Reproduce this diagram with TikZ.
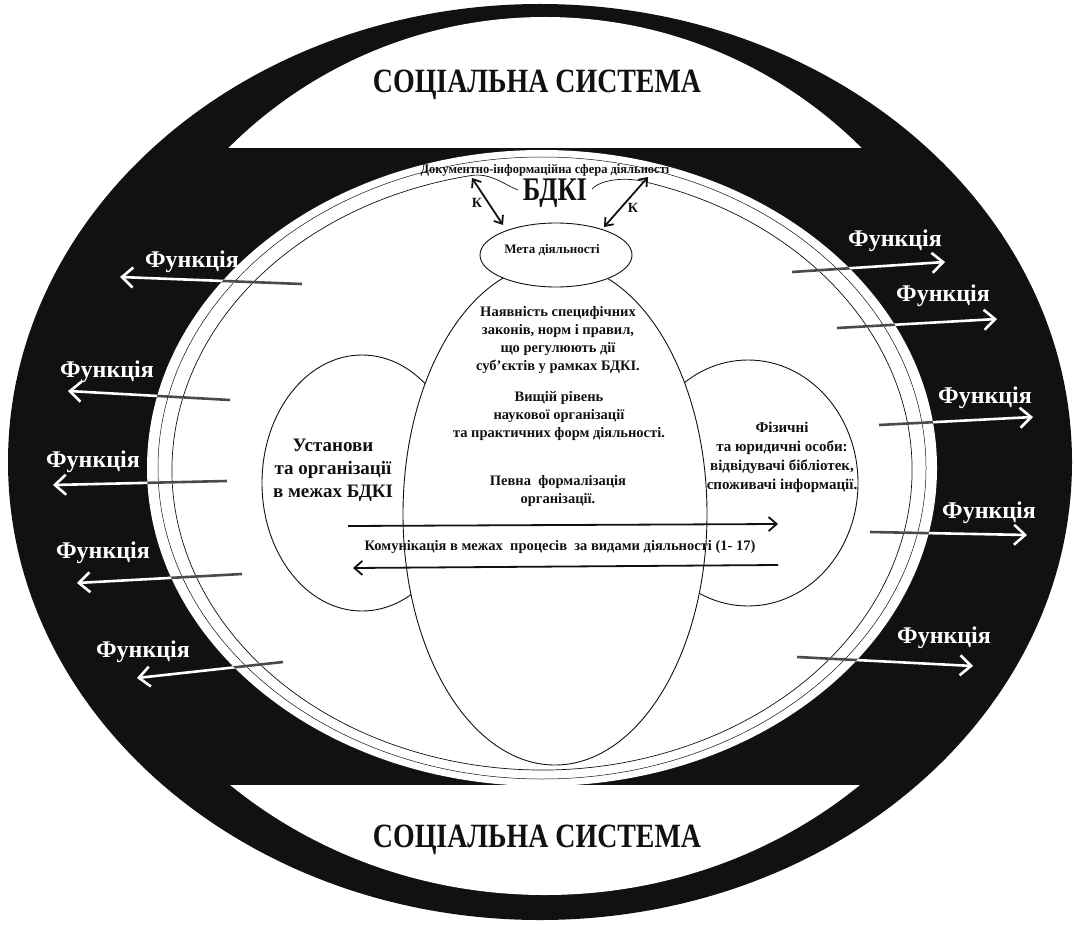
\documentclass[tikz,border=0pt]{standalone}
\usepackage{fontspec}
\usepackage{graphicx}
\setmainfont{Liberation Serif}
\usetikzlibrary{arrows.meta}
\definecolor{ink}{HTML}{111111}
\definecolor{greyline}{HTML}{4A4A4A}
\tikzset{
  fnarrow/.style={white, line width=2.6pt, -{Straight Barb[length=11pt,width=20pt]}},
  fnin/.style={greyline, line width=2.6pt},
  fnlabel/.style={text=white, font=\bfseries\fontsize{24}{24}\selectfont, inner sep=0pt},
  bubble/.style={draw=ink, line width=0.9pt, fill=white},
  thinline/.style={draw=ink, line width=0.7pt},
  blacktext/.style={text=ink, inner sep=0pt, align=center},
  commarrow/.style={draw=ink, line width=1.8pt, -{Straight Barb[length=8pt,width=14pt]}},
  karrow/.style={draw=ink, line width=1.8pt, {Straight Barb[length=7pt,width=11pt]}-{Straight Barb[length=7pt,width=11pt]}}
}
\begin{document}
\begin{tikzpicture}[x=1pt,y=-1pt]
\useasboundingbox (0,0) rectangle (1075,925);
% outer black ring
\fill[ink] (540,462) ellipse [x radius=532, y radius=458];
\begin{scope}
  \clip (0,0) rectangle (1075,148);
  \fill[white] (545,465) ellipse [x radius=448, y radius=448];
\end{scope}
\begin{scope}
  \clip (0,785) rectangle (1075,925);
  \fill[white] (545,455) ellipse [x radius=476, y radius=440];
\end{scope}
% central white field
\fill[white] (542,468) ellipse [x radius=395, y radius=318];
\draw[thinline, line width=0.5pt] (542,468) ellipse [x radius=384, y radius=311];
% inner thin ellipse with opening at the top
\draw[thinline] (647.7,182.5) arc [start angle=-73.4, end angle=258.8, x radius=370, y radius=300];
\draw[thinline] (470.1,175.7) .. controls (490,172) and (505,185) .. (518,190);
\draw[thinline] (592,189) .. controls (600,180) and (625,176) .. (647.7,182.5);
% side ellipses and central ellipse
\draw[bubble] (362,483) ellipse [x radius=100, y radius=128];
\draw[bubble] (748,483) ellipse [x radius=110, y radius=123];
\draw[bubble] (555,514) ellipse [x radius=152, y radius=251];
\draw[bubble] (556,255) ellipse [x radius=76, y radius=32];
% titles
\node[blacktext, font=\bfseries\fontsize{34}{34}\selectfont] (sstop) at (537,85) {\scalebox{0.82}[1]{СОЦІАЛЬНА СИСТЕМА}};
\node[blacktext, font=\bfseries\fontsize{34}{34}\selectfont] (ssbot) at (537,840) {\scalebox{0.82}[1]{СОЦІАЛЬНА СИСТЕМА}};
\node[blacktext, font=\bfseries\fontsize{13}{13}\selectfont] (sfera) at (545,170) {\scalebox{0.96}[1]{Документно-інформаційна сфера діяльності}};
\node[blacktext, font=\bfseries\fontsize{33}{33}\selectfont] (bdki) at (555,193) {\scalebox{0.8}[1]{БДКІ}};
\node[blacktext, font=\bfseries\fontsize{13}{13}\selectfont] (meta) at (552,250) {Мета діяльності};
\node[blacktext, font=\bfseries\fontsize{14}{14}\selectfont] (kl) at (477,203) {К};
\node[blacktext, font=\bfseries\fontsize{14}{14}\selectfont] (kr) at (633,208) {К};
\coordinate (kla) at (472,178);
\coordinate (klb) at (503,225);
\coordinate (kra) at (648,177);
\coordinate (krb) at (604,227);
\draw[karrow] (kla) -- (klb);
\draw[karrow] (kra) -- (krb);
% central texts
\node[blacktext, font=\bfseries\fontsize{14.5}{18.3}\selectfont] (laws) at (558,340)
  {Наявність специфічних\\законів, норм і правил,\\що регулюють дії\\суб’єктів у рамках БДКІ.};
\node[blacktext, font=\bfseries\fontsize{14.5}{18}\selectfont] (level) at (559,416)
  {Вищій рівень\\наукової організації\\та практичних форм діяльності.};
\node[blacktext, font=\bfseries\fontsize{14.5}{18}\selectfont] (formal) at (558,491)
  {Певна~ формалізація\\організації.};
\node[blacktext, font=\bfseries\fontsize{19}{23}\selectfont] (inst) at (333,470)
  {Установи\\та організації\\в межах БДКІ};
\node[blacktext, font=\bfseries\fontsize{15}{19}\selectfont] (pers) at (782,457)
  {Фізичні\\та юридичні особи:\\відвідувачі бібліотек,\\споживачі інформації.};
\node[blacktext, font=\bfseries\fontsize{14.5}{14.5}\selectfont] (comm) at (560,547)
  {Комунікація в межах~ процесів~ за видами діяльності (1- 17)};
\coordinate (cra) at (348,526);
\coordinate (crb) at (778,524);
\coordinate (cla) at (778,565);
\coordinate (clb) at (353,568);
\draw[commarrow] (cra) -- (crb);
\draw[commarrow] (cla) -- (clb);
% function arrows
\foreach \i/\sx/\sy/\ex/\ey/\lx/\ly in {
  1/302/284/120/277/192/262, 2/230/400/68/391/107/372, 3/227/481/53/485/93/462,
  4/242/574/77/583/103/553, 5/283/662/137/678/143/652, 6/792/272/945/262/895/241,
  7/837/328/997/319/943/296, 8/879/425/1033/417/985/398, 9/870/532/1027/535/989/513,
  10/797/657/973/666/944/638} {
  \coordinate (fs\i) at (\sx,\sy);
  \coordinate (fe\i) at (\ex,\ey);
  \node[fnlabel] (fl\i) at (\lx,\ly) {Функція};
  \draw[fnarrow] (fs\i) -- (fe\i);
}
\begin{scope}
  \clip (542,468) ellipse [x radius=395, y radius=318];
  \foreach \i in {1,...,10} { \draw[fnin] (fs\i) -- (fe\i); }
\end{scope}
\end{tikzpicture}
\end{document}
